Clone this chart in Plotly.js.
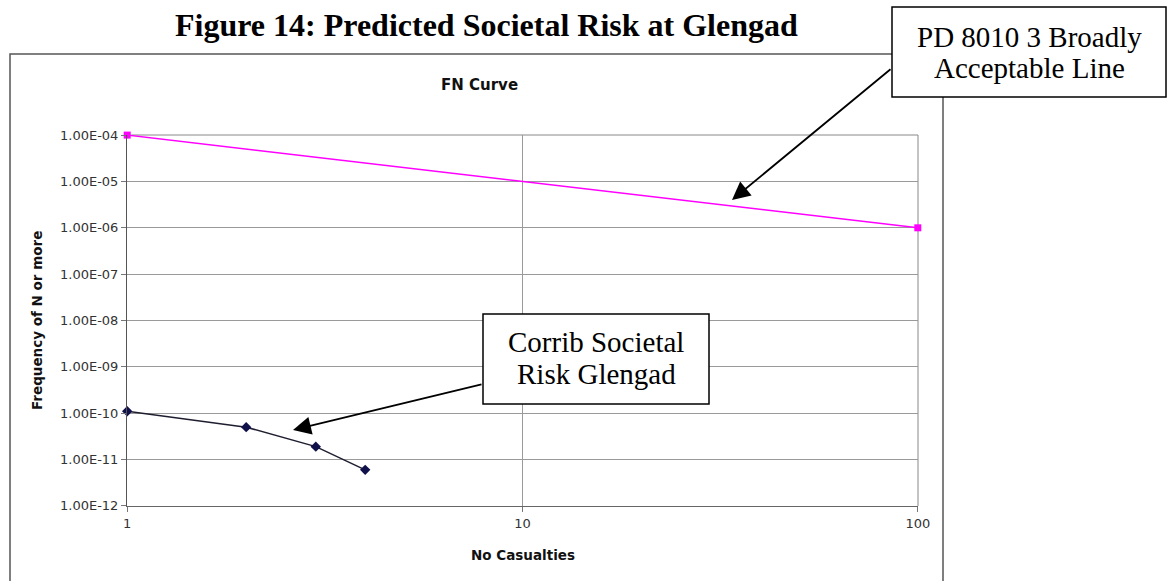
<!DOCTYPE html>
<html>
<head>
<meta charset="utf-8">
<script src="https://cdn.plot.ly/plotly-3.0.1.min.js"></script>
<style>
  html, body { margin: 0; padding: 0; background: #ffffff; }
  #chart { width: 1173px; height: 581px; }
</style>
</head>
<body>
<div id="chart"></div>
<script>
// FN curve data: number of casualties vs frequency of N or more
const casualties = [1, 2, 3, 4];
const corribFreq = [1.1e-10, 5e-11, 1.9e-11, 6e-12];
const pdLineN = [1, 100];
const pdLineFreq = [1e-4, 1e-6];

const xTickVals = [1, 10, 100];
const xTickText = ['1', '10', '100'];
const yTickVals = [1e-12, 1e-11, 1e-10, 1e-9, 1e-8, 1e-7, 1e-6, 1e-5, 1e-4];
const yTickText = ['1.00E-12', '1.00E-11', '1.00E-10', '1.00E-09', '1.00E-08',
                   '1.00E-07', '1.00E-06', '1.00E-05', '1.00E-04'];

const W = 1173, H = 581;
const px = v => v / W;
const py = v => 1 - v / H;

const chartFont = 'DejaVu Sans, Arial, sans-serif';
const serifFont = 'Liberation Serif, Times New Roman, serif';

const traces = [
  {
    x: casualties, y: corribFreq, type: 'scatter', mode: 'lines+markers',
    name: 'Corrib Societal Risk Glengad',
    line: { color: '#1e1e30', width: 1.5 },
    marker: { symbol: 'diamond', size: 8, color: '#10104a' },
    cliponaxis: false
  },
  {
    x: pdLineN, y: pdLineFreq, type: 'scatter', mode: 'lines+markers',
    name: 'PD 8010 3 Broadly Acceptable Line',
    line: { color: '#ff00ff', width: 1.5 },
    marker: { symbol: 'square', size: 7, color: '#ff00ff' },
    cliponaxis: false
  }
];

const layout = {
  width: W, height: H,
  margin: { l: 0, r: 0, t: 0, b: 0 },
  paper_bgcolor: '#ffffff', plot_bgcolor: '#ffffff',
  showlegend: false,
  xaxis: {
    // tiny pad so end-point markers are kept when drawn outside the clip
    type: 'log', range: [-0.0005, 2.0005],
    domain: [px(127), px(918)],
    tickvals: xTickVals, ticktext: xTickText,
    tickfont: { family: chartFont, size: 13, color: '#333' },
    ticks: 'outside', ticklen: 5, tickcolor: '#777',
    showgrid: true, gridcolor: '#9a9a9a', gridwidth: 1,
    showline: true, linecolor: '#666', linewidth: 1, mirror: false,
    zeroline: false
  },
  yaxis: {
    type: 'log', range: [-12.002, -3.998],
    domain: [py(506), py(135)],
    tickvals: yTickVals, ticktext: yTickText,
    tickfont: { family: chartFont, size: 13, color: '#333' },
    ticks: 'outside', ticklen: 5, tickcolor: '#777',
    showgrid: true, gridcolor: '#9a9a9a', gridwidth: 1,
    showline: true, linecolor: '#555', linewidth: 1, mirror: false,
    zeroline: false
  },
  shapes: [
    // chart frame
    { type: 'rect', xref: 'paper', yref: 'paper',
      x0: px(10), x1: px(943), y0: py(590), y1: py(54),
      line: { color: '#555', width: 1.5 }, fillcolor: 'rgba(0,0,0,0)', layer: 'below' },
    // plot area top and right borders
    { type: 'line', xref: 'paper', yref: 'paper', layer: 'below',
      x0: px(127), x1: px(918), y0: py(135), y1: py(135),
      line: { color: '#888', width: 1 } },
    { type: 'line', xref: 'paper', yref: 'paper', layer: 'below',
      x0: px(918), x1: px(918), y0: py(135), y1: py(506),
      line: { color: '#888', width: 1 } },
    // callout boxes
    { type: 'rect', xref: 'paper', yref: 'paper',
      x0: px(892), x1: px(1166), y0: py(97), y1: py(7),
      line: { color: '#000', width: 1.5 }, fillcolor: '#ffffff', layer: 'above' },
    { type: 'rect', xref: 'paper', yref: 'paper',
      x0: px(483), x1: px(709), y0: py(404), y1: py(314),
      line: { color: '#000', width: 1.5 }, fillcolor: '#ffffff', layer: 'above' }
  ],
  annotations: [
    { text: '<b>Figure 14: Predicted Societal Risk at Glengad</b>', xref: 'paper', yref: 'paper',
      x: px(486), y: py(25), xanchor: 'center', yanchor: 'middle', showarrow: false,
      font: { family: serifFont, size: 32, color: '#000' } },
    { text: '<b>FN Curve</b>', xref: 'paper', yref: 'paper',
      x: px(479), y: py(85), xanchor: 'center', yanchor: 'middle', showarrow: false,
      font: { family: chartFont, size: 15, color: '#111' } },
    { text: '<b>No Casualties</b>', xref: 'paper', yref: 'paper',
      x: px(523), y: py(555), xanchor: 'center', yanchor: 'middle', showarrow: false,
      font: { family: chartFont, size: 13.5, color: '#111' } },
    { text: '<b>Frequency of N or more</b>', xref: 'paper', yref: 'paper',
      x: px(37), y: py(321), xanchor: 'center', yanchor: 'middle', showarrow: false,
      textangle: -90,
      font: { family: chartFont, size: 13.5, color: '#111' } },
    // callout texts
    { text: 'PD 8010 3 Broadly', xref: 'paper', yref: 'paper',
      x: px(1029), y: py(37), xanchor: 'center', yanchor: 'middle', showarrow: false,
      font: { family: serifFont, size: 29, color: '#000' } },
    { text: 'Acceptable Line', xref: 'paper', yref: 'paper',
      x: px(1029), y: py(68), xanchor: 'center', yanchor: 'middle', showarrow: false,
      font: { family: serifFont, size: 29, color: '#000' } },
    { text: 'Corrib Societal', xref: 'paper', yref: 'paper',
      x: px(596), y: py(342), xanchor: 'center', yanchor: 'middle', showarrow: false,
      font: { family: serifFont, size: 29, color: '#000' } },
    { text: 'Risk Glengad', xref: 'paper', yref: 'paper',
      x: px(596), y: py(374), xanchor: 'center', yanchor: 'middle', showarrow: false,
      font: { family: serifFont, size: 29, color: '#000' } },
    // callout arrows
    { text: '', xref: 'paper', yref: 'paper', x: px(732), y: py(200),
      showarrow: true, ax: 892 - 732, ay: 68 - 200,
      arrowhead: 2, arrowsize: 2, arrowwidth: 1.8, arrowcolor: '#000' },
    { text: '', xref: 'paper', yref: 'paper', x: px(293), y: py(430),
      showarrow: true, ax: 483 - 293, ay: 384 - 430,
      arrowhead: 2, arrowsize: 2, arrowwidth: 1.8, arrowcolor: '#000' }
  ]
};

Plotly.newPlot('chart', traces, layout, { staticPlot: true, displayModeBar: false });
</script>
</body>
</html>
